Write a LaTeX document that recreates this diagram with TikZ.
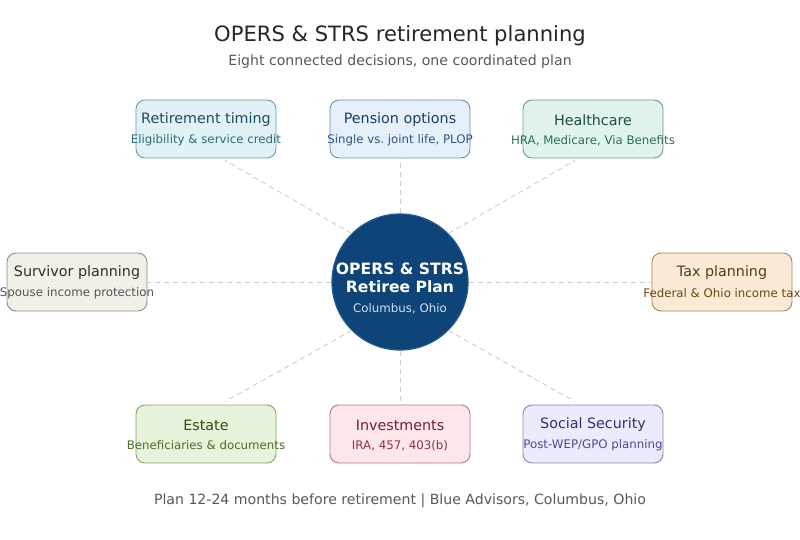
\documentclass[tikz,border=0pt]{standalone}
\usepackage{fontspec}
\setmainfont{DejaVu Sans}
\frenchspacing
\usetikzlibrary{calc}
\definecolor{hubfill}{HTML}{0F4479}
\definecolor{hubline}{HTML}{1F5A96}
\definecolor{hubsub}{HTML}{D2E2F2}
\definecolor{conncol}{HTML}{CCCCCC}
\definecolor{titlecol}{HTML}{262626}
\definecolor{graycol}{HTML}{585858}
% box colours
\definecolor{rtF}{HTML}{E1F2F7}\definecolor{rtB}{HTML}{6A98A8}\definecolor{rtT}{HTML}{1E4B5C}\definecolor{rtS}{HTML}{2C6B7D}
\definecolor{poF}{HTML}{E6F0FA}\definecolor{poB}{HTML}{6E8FB3}\definecolor{poT}{HTML}{1E3C5E}\definecolor{poS}{HTML}{2C5584}
\definecolor{hcF}{HTML}{E0F3EC}\definecolor{hcB}{HTML}{6A9E86}\definecolor{hcT}{HTML}{1D4E3E}\definecolor{hcS}{HTML}{2B6E57}
\definecolor{svF}{HTML}{F2EFE9}\definecolor{svB}{HTML}{948E84}\definecolor{svT}{HTML}{2E2E2E}\definecolor{svS}{HTML}{555555}
\definecolor{txF}{HTML}{FBEBD6}\definecolor{txB}{HTML}{A68656}\definecolor{txT}{HTML}{5A3A10}\definecolor{txS}{HTML}{6B4610}
\definecolor{esF}{HTML}{E8F3DC}\definecolor{esB}{HTML}{86A668}\definecolor{esT}{HTML}{2E4E12}\definecolor{esS}{HTML}{4A7022}
\definecolor{inF}{HTML}{FDE7EA}\definecolor{inB}{HTML}{B57884}\definecolor{inT}{HTML}{6A2232}\definecolor{inS}{HTML}{8A3444}
\definecolor{ssF}{HTML}{ECEBFB}\definecolor{ssB}{HTML}{8886B6}\definecolor{ssT}{HTML}{303070}\definecolor{ssS}{HTML}{4A4A92}
\newcommand\decbox[6]{%
  \node[decision, fill=#4F, draw=#4B] (#1) at (#2,#3) {};
  \node[boxtitle, text=#4T] (#1t) at (#2,#3-9) {#5};
  \node[boxsub, text=#4S] (#1s) at (#2,#3+11.5) {#6};
}
\begin{document}
\begin{tikzpicture}[x=1pt,y=-1pt,
  decision/.style={rectangle, rounded corners=9pt, minimum width=140pt, minimum height=58pt, line width=0.9pt, inner sep=0pt},
  boxtitle/.style={font=\fontsize{14.3}{16}\selectfont, inner sep=0pt, anchor=center},
  boxsub/.style={font=\fontsize{11.8}{13}\selectfont, inner sep=0pt, anchor=center},
  conn/.style={draw=conncol, line width=0.9pt, dash pattern=on 5pt off 4pt},
  hubnode/.style={circle, fill=hubfill, draw=hubline, line width=1.2pt, minimum size=136pt, inner sep=0pt},
]
\useasboundingbox (0,0) rectangle (800,540);
\fill[white] (0,0) rectangle (800,540);

\node[font=\fontsize{21.1}{24}\selectfont, text=titlecol, inner sep=0pt] (title) at (400,36) {OPERS \& STRS retirement planning};
\node[font=\fontsize{14.1}{16}\selectfont, text=graycol, inner sep=0pt] (subtitle) at (400,61.5) {Eight connected decisions, one coordinated plan};

\node[hubnode] (hub) at (400,282) {};
\node[font=\bfseries\fontsize{15.6}{17}\selectfont, text=white, inner sep=0pt] (hub1) at (400,269) {OPERS \& STRS};
\node[font=\bfseries\fontsize{15.6}{17}\selectfont, text=white, inner sep=0pt] (hub2) at (400,287) {Retiree Plan};
\node[font=\fontsize{11.8}{14}\selectfont, text=hubsub, inner sep=0pt] (hub3) at (400,308.5) {Columbus, Ohio};

\decbox{rt}{206}{129}{rt}{Retirement timing}{Eligibility \& service credit}
\decbox{po}{400}{129}{po}{Pension options}{Single vs.\ joint life, PLOP}
\decbox{hc}{593}{129}{hc}{Healthcare}{HRA, Medicare, Via Benefits}
\decbox{sv}{77}{282}{sv}{Survivor planning}{Spouse income protection}
\decbox{tx}{722}{282}{tx}{Tax planning}{Federal \& Ohio income tax}
\decbox{es}{206}{434}{es}{Estate}{Beneficiaries \& documents}
\decbox{in}{400}{434}{in}{Investments}{IRA, 457, 403(b)}
\decbox{ss}{593}{434}{ss}{Social Security}{Post-WEP/GPO planning}

\draw[conn] (hub.135) -- ($(rt.south)+(19,2)$);
\draw[conn] (hub.north) -- (po.south);
\draw[conn] (hub.45) -- ($(hc.south)+(-18,2)$);
\draw[conn] (hub.west) -- (sv.east);
\draw[conn] (hub.east) -- (tx.west);
\draw[conn] (hub.225) -- ($(es.north)+(19,-3)$);
\draw[conn] (hub.south) -- (in.north);
\draw[conn] (hub.315) -- ($(ss.north)+(-18,-3)$);

\node[font=\fontsize{14.1}{16}\selectfont, text=graycol, inner sep=0pt] (footer) at (400,500.5) {Plan 12-24 months before retirement | Blue Advisors, Columbus, Ohio};
\end{tikzpicture}
\end{document}
